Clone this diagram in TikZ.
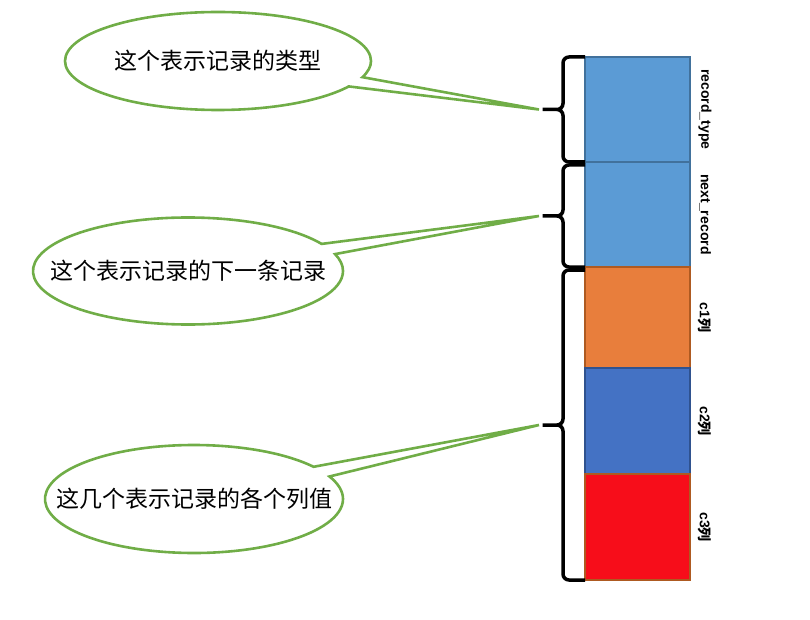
\documentclass[tikz,border=0pt]{standalone}
\usepackage{fontspec}
\setmainfont{Liberation Sans}
\newfontfamily\cjk{Noto Sans CJK SC}
\usetikzlibrary{positioning,calc,shapes.callouts}

\definecolor{lblue}{HTML}{5B9BD5}
\definecolor{lblueb}{HTML}{41719C}
\definecolor{orng}{HTML}{E87E3C}
\definecolor{orngb}{HTML}{AE5A21}
\definecolor{dblue}{HTML}{4472C4}
\definecolor{dblueb}{HTML}{2F528F}
\definecolor{rred}{HTML}{F70D1A}
\definecolor{cgreen}{HTML}{70AD47}

% square-ish brace from #1 (top) to #2 (bottom), tip named #3
\newcommand{\recbrace}[3]{%
  \coordinate (#3) at ($(#1)!.5!(#2)+(-46,0)$);
  \draw[curly] (#1) -- ++(-22,0) |- (#3) -- ++(24,0) |- (#2);}

\begin{document}
\begin{tikzpicture}[x=1pt, y=-1pt,
  field/.style={draw, line width=1.5pt, minimum width=105pt, inner sep=0pt, outer sep=0pt},
  tag/.style={font=\bfseries\fontsize{14}{14}\selectfont, rotate=-90},
  curly/.style={line width=3.5pt, rounded corners=6pt, line cap=butt},
  bubble/.style={ellipse callout, draw=cgreen, line width=2.6pt, callout pointer arc=12, inner sep=0pt},
  say/.style={font=\cjk\fontsize{23}{23}\selectfont}]
\useasboundingbox (0,0) rectangle (810,620);

% the record
\node[field, fill=lblue, draw=lblueb, minimum height=105pt, anchor=north west] (rt) at (585,57) {};
\node[field, fill=lblue, draw=lblueb, minimum height=105pt, below=0pt of rt] (nr) {};
\node[field, fill=orng, draw=orngb, minimum height=101pt, below=0pt of nr] (c1) {};
\node[field, fill=dblue, draw=dblueb, minimum height=106pt, below=0pt of c1] (c2) {};
\node[field, fill=rred, draw=orngb, minimum height=106pt, below=0pt of c2] (c3) {};

\node[tag] at ([xshift=15pt]rt.east) {record\_type};
\node[tag] at ([xshift=15pt]nr.east) {next\_record};
\node[tag] at ([xshift=15pt]c1.east) {c1{\cjk 列}};
\node[tag] at ([xshift=15pt]c2.east) {c2{\cjk 列}};
\node[tag] at ([xshift=15pt]c3.east) {c3{\cjk 列}};

% braces
\recbrace{rt.north west}{rt.south west}{t1}
\recbrace{[yshift=-3pt]nr.north west}{nr.south west}{t2}
\recbrace{[yshift=-3pt]c1.north west}{c3.south west}{t3}

% callouts
\node[bubble, minimum width=306pt, minimum height=98pt, callout absolute pointer=(t1)] (b1) at (218,61) {};
\node[say] at (b1.center) {这个表示记录的类型};
\node[bubble, minimum width=310pt, minimum height=107pt, callout absolute pointer=(t2)] (b2) at (188,271) {};
\node[say] at (b2.center) {这个表示记录的下一条记录};
\node[bubble, minimum width=298pt, minimum height=108pt, callout absolute pointer=(t3)] (b3) at (194,499) {};
\node[say] at (b3.center) {这几个表示记录的各个列值};
\end{tikzpicture}
\end{document}
